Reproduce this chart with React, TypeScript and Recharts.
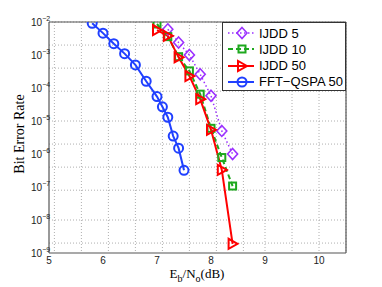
import React from "react";
import { LineChart, Line, XAxis, YAxis, CartesianGrid, Label, ReferenceLine } from "recharts";

// values
const xTicks = [5, 6, 7, 8, 9, 10];
const yTicks = [1e-9, 1e-8, 1e-7, 1e-6, 1e-5, 1e-4, 1e-3, 1e-2];

const ijdd5X = [7.2, 7.4, 7.6, 7.8, 8.0, 8.2, 8.4];
const ijdd5Y = [6e-3, 2.4e-3, 1e-3, 2.6e-4, 5.8e-5, 5e-6, 1e-6];

const ijdd10X = [7.0, 7.2, 7.4, 7.6, 7.8, 8.0, 8.2, 8.4];
const ijdd10Y = [8.7e-3, 3.6e-3, 8.9e-4, 3.3e-4, 6.5e-5, 6e-6, 7.8e-7, 1.07e-7];

const ijdd50X = [7.0, 7.2, 7.4, 7.6, 7.8, 8.0, 8.2, 8.4];
const ijdd50Y = [5.7e-3, 3.8e-3, 8.5e-4, 2.3e-4, 4.6e-5, 5.4e-6, 3.3e-7, 1.9e-9];

const fftX = [5.8, 6.0, 6.2, 6.4, 6.6, 6.8, 7.0, 7.1, 7.2, 7.3, 7.4, 7.5];
const fftY = [9.1e-3, 4.6e-3, 2.2e-3, 1.1e-3, 5e-4, 1.6e-4, 5.5e-5, 2.7e-5, 1.3e-5, 3.5e-6, 1.5e-6, 3.2e-7];

const toRows = (xs: number[], ys: number[]) => xs.map((x, i) => ({ x, y: ys[i] }));

// minor grid: 0.1 steps on x, 1..9 per decade on y
const xGrid: number[] = [];
for (let i = 50; i <= 105; i++) xGrid.push(i / 10);
const yGrid: number[] = [];
for (let e = -9; e < -2; e++) for (let m = 1; m < 10; m++) yGrid.push(m * Math.pow(10, e));
yGrid.push(1e-2);

const PURPLE = "#9b30ff";
const GREEN = "#1ea81e";
const RED = "#ff0000";
const BLUE = "#2040ff";
const FRAME = "#555";

const Diamond = ({ cx, cy, color }: any) => (
  <path d={`M${cx},${cy - 5.5}L${cx + 5},${cy}L${cx},${cy + 5.5}L${cx - 5},${cy}Z`} fill="none" stroke={color} strokeWidth={1.6} />
);
const Square = ({ cx, cy, color }: any) => (
  <rect x={cx - 3.5} y={cy - 3.5} width={7} height={7} fill="none" stroke={color} strokeWidth={2} />
);
const Tri = ({ cx, cy, color }: any) => (
  <path d={`M${cx + 5},${cy}L${cx - 4},${cy - 5}L${cx - 4},${cy + 5}Z`} fill="none" stroke={color} strokeWidth={2} />
);
const Circ = ({ cx, cy, color }: any) => <circle cx={cx} cy={cy} r={4.5} fill="none" stroke={color} strokeWidth={2} />;

const YTick = ({ y, payload }: any) => {
  const exp = Math.round(Math.log10(payload.value));
  return (
    <text x={31} y={y + 4} fontFamily="Liberation Sans, Arial" fontSize={10} fill="#222">
      10
      <tspan fontSize={7} dy={-5}>{`\u2212${-exp}`}</tspan>
    </text>
  );
};

const XTick = ({ x, payload }: any) => (
  <text x={x} y={264} textAnchor="middle" fontFamily="Liberation Sans, Arial" fontSize={10} fill="#222">
    {payload.value}
  </text>
);

const XLabel = () => (
  <text x={197} y={278} textAnchor="middle" fontFamily="Liberation Serif, Times New Roman" fontSize={13} fill="#000">
    E<tspan fontSize={10} dy={4}>b</tspan>
    <tspan dy={-4}>/N</tspan>
    <tspan fontSize={10} dy={4}>o</tspan>
    <tspan dy={-4}>(dB)</tspan>
  </text>
);

const YLabel = () => (
  <text x={0} y={0} transform="translate(24,134) rotate(-90)" textAnchor="middle" fontFamily="Liberation Serif, Times New Roman" fontSize={14} fill="#000">
    Bit Error Rate
  </text>
);

const legendItems = [
  { name: "IJDD 5", color: PURPLE, dash: "1.5 2.5", width: 1.5, Mark: Diamond },
  { name: "IJDD 10", color: GREEN, dash: "5 3", width: 2, Mark: Square },
  { name: "IJDD 50", color: RED, dash: undefined, width: 2, Mark: Tri },
  { name: "FFT\u2212QSPA 50", color: BLUE, dash: undefined, width: 2, Mark: Circ },
];

export default function App() {
  return (
    <div style={{ position: "absolute", left: 0, top: 0, width: 382, height: 287, background: "#fff" }}>
      <LineChart width={382} height={287} margin={{ top: 22, right: 36, bottom: 0, left: 0 }}>
        <CartesianGrid
          xAxisId="b"
          yAxisId="l"
          horizontalValues={yGrid}
          verticalValues={xGrid}
          stroke="#9a9a9a"
          strokeDasharray="1 2"
          strokeWidth={0.8}
        />
        <XAxis
          xAxisId="b"
          dataKey="x"
          type="number"
          domain={[5, 10.5]}
          ticks={xTicks}
          height={34}
          tick={<XTick />}
          tickLine={false}
          axisLine={{ stroke: FRAME, strokeWidth: 1.2 }}
          allowDataOverflow
        >
          <Label content={<XLabel />} />
        </XAxis>
        <YAxis
          yAxisId="l"
          type="number"
          scale="log"
          domain={[1e-9, 1e-2]}
          ticks={yTicks}
          width={49}
          tick={<YTick />}
          tickLine={false}
          axisLine={{ stroke: FRAME, strokeWidth: 1.2 }}
          allowDataOverflow
        >
          <Label content={<YLabel />} />
        </YAxis>
        <ReferenceLine xAxisId="b" yAxisId="l" y={1e-2} stroke={FRAME} strokeWidth={1.2} />
        <ReferenceLine xAxisId="b" yAxisId="l" x={10.5} stroke={FRAME} strokeWidth={1.2} />
        <Line
          xAxisId="b"
          yAxisId="l"
          data={toRows(ijdd5X, ijdd5Y)}
          dataKey="y"
          stroke={PURPLE}
          strokeWidth={1.5}
          strokeDasharray="1.5 2.5"
          dot={(p: any) => <Diamond key={p.index} cx={p.cx} cy={p.cy} color={PURPLE} />}
          isAnimationActive={false}
        />
        <Line
          xAxisId="b"
          yAxisId="l"
          data={toRows(ijdd10X, ijdd10Y)}
          dataKey="y"
          stroke={GREEN}
          strokeWidth={2}
          strokeDasharray="5 3"
          dot={(p: any) => <Square key={p.index} cx={p.cx} cy={p.cy} color={GREEN} />}
          isAnimationActive={false}
        />
        <Line
          xAxisId="b"
          yAxisId="l"
          data={toRows(ijdd50X, ijdd50Y)}
          dataKey="y"
          stroke={RED}
          strokeWidth={2}
          dot={(p: any) => <Tri key={p.index} cx={p.cx} cy={p.cy} color={RED} />}
          isAnimationActive={false}
        />
        <Line
          xAxisId="b"
          yAxisId="l"
          data={toRows(fftX, fftY)}
          dataKey="y"
          stroke={BLUE}
          strokeWidth={2}
          dot={(p: any) => <Circ key={p.index} cx={p.cx} cy={p.cy} color={BLUE} />}
          isAnimationActive={false}
        />
      </LineChart>
      <div
        style={{
          position: "absolute",
          left: 222,
          top: 22,
          width: 124,
          height: 69,
          border: "1px solid #333",
          background: "#fff",
          boxSizing: "border-box",
        }}
      >
        {legendItems.map((it, i) => (
          <div key={it.name} style={{ position: "absolute", left: 0, top: 2 + i * 16.3, height: 16, display: "flex", alignItems: "center" }}>
            <svg width={34} height={16} style={{ display: "block" }}>
              <line x1={5} y1={8} x2={31} y2={8} stroke={it.color} strokeWidth={it.width} strokeDasharray={it.dash} />
              <it.Mark cx={19} cy={8} color={it.color} />
            </svg>
            <span style={{ fontFamily: "Liberation Sans, Arial", fontSize: 13, color: "#000", marginLeft: 2, whiteSpace: "nowrap" }}>{it.name}</span>
          </div>
        ))}
      </div>
    </div>
  );
}
